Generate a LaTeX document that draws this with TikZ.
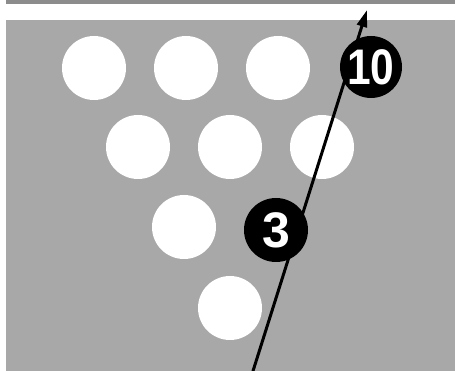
\documentclass[tikz,border=0pt]{standalone}
\usepackage{fontspec}
\newfontfamily\pinfont{Liberation Sans}
\usetikzlibrary{arrows.meta}
\definecolor{lanegray}{RGB}{168,168,168}
\definecolor{stripgray}{RGB}{140,140,140}

\begin{document}
\begin{tikzpicture}[x=1pt, y=-1pt, >=Triangle, line cap=round,
  pin/.style={circle, fill=white, minimum size=64pt, inner sep=0pt},
  hitpin/.style={circle, fill=black, minimum size=64pt, inner sep=0pt,
    text=white, font=\pinfont\bfseries\fontsize{50}{50}\selectfont}]
\useasboundingbox (0,0) rectangle (458,371);
% 背景
\fill[stripgray] (6,0) rectangle (455,4);
\fill[lanegray] (6,20) rectangle (455,371);
% 白色球瓶
\foreach \n/\x/\y in {7/94/68, 8/186/68, 9/278/68,
                      4/138/147, 5/230/147, 6/322/147,
                      2/184/227,
                      1/230/308} {
  \node[pin] (pin\n) at (\x,\y) {};
}
% 球的路线
\coordinate (start) at (253,371);
\coordinate (tip) at (367,10);
\draw[line width=3pt, -{Triangle[length=17pt, width=10pt]}] (start) -- (tip);
% 击中的球瓶
\node[hitpin] (pin3) at (276,230) {3};
\node[hitpin, minimum size=62pt] (pin10) at (371,67) {\scalebox{0.85}[1]{10}};
\end{tikzpicture}
\end{document}
